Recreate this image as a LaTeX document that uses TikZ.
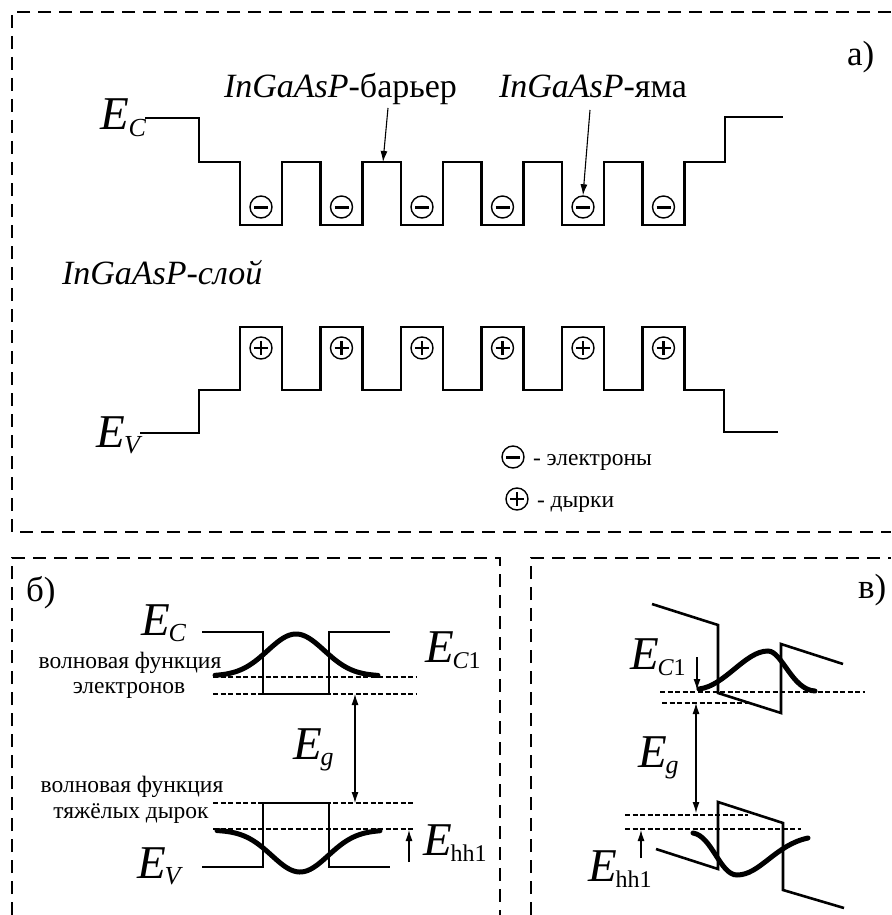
\documentclass[tikz,border=0pt]{standalone}
\usepackage{fontspec}
\setmainfont{Liberation Serif}
\usetikzlibrary{arrows.meta}

% energy level symbol: large italic E with a lowered subscript
\newcommand{\Lv}[2][26]{{\fontsize{47}{47}\selectfont\itshape E}\kern-1pt\raisebox{-6.5pt}{\fontsize{#1}{#1}\selectfont #2}}
\newcommand{\capsize}{\fontsize{34}{34}\selectfont}
\newcommand{\smallsize}{\fontsize{23.5}{23.5}\selectfont}
\newcommand{\tagsize}{\fontsize{35}{35}\selectfont}

\begin{document}
\begin{tikzpicture}[x=1pt,y=-1pt,
  frame/.style={line width=1.5pt, dash pattern=on 13pt off 8pt},
  band/.style={line width=2.6pt, line join=miter},
  lvl/.style={line width=1.2pt, dash pattern=on 5pt off 2.5pt},
  wave/.style={line width=5pt, line cap=round},
  lbl/.style={inner sep=0pt, outer sep=0pt},
  arr/.style={-{Latex[length=11pt,width=7pt]}, line width=1.1pt},
  dblarr/.style={{Latex[length=11pt,width=7pt]}-{Latex[length=11pt,width=7pt]}, line width=1.1pt},
  elec/.style={circle, draw, line width=1.4pt, minimum size=22pt, inner sep=0pt,
    path picture={\draw[line width=3pt]
      ([xshift=-7pt]path picture bounding box.center) -- ([xshift=7pt]path picture bounding box.center);}},
  hole/.style={circle, draw, line width=1.4pt, minimum size=22pt, inner sep=0pt,
    path picture={\draw[line width=2.6pt]
      ([xshift=-7pt]path picture bounding box.center) -- ([xshift=7pt]path picture bounding box.center)
      ([yshift=-7pt]path picture bounding box.center) -- ([yshift=7pt]path picture bounding box.center);}}
]
\useasboundingbox (0,0) rectangle (891,915);

% ---------------- panel a: multiple quantum wells ----------------
\draw[frame] (891,12) -- (12,12) -- (12,532) -- (891,532);
\node[lbl, anchor=base west, font=\tagsize] (pa) at (847,66) {a)};

% conduction band edge
\draw[band] (145,118) -| (199,162) -| (240,225) -| (282,162) -| (320.5,225) -| (362.5,162)
  -| (401,225) -| (443,162) -| (481.5,225) -| (523.5,162) -| (562,225) -| (604,162)
  -| (642.5,225) -| (684.5,162) -| (725,117) -- (783,117);
% valence band edge
\draw[band] (140,433) -| (199,390) -| (240,327) -| (282,390) -| (320.5,327) -| (362.5,390)
  -| (401,327) -| (443,390) -| (481.5,327) -| (523.5,390) -| (562,327) -| (604,390)
  -| (642.5,327) -| (684.5,390) -| (724,432) -- (778,432);

\foreach \i/\x in {1/261,2/341.5,3/422,4/502.5,5/583,6/663.5}{
  \node[elec] (m\i) at (\x,207) {};
  \node[hole] (p\i) at (\x,348) {};
}

\node[lbl, anchor=base east] (ECa) at (146,130) {\Lv{\itshape C}};
\node[lbl, anchor=base east] (EVa) at (140,447) {\Lv{\itshape V}};

\node[lbl, anchor=base west, font=\capsize] (lbar) at (224,98) {\textit{InGaAsP}-барьер};
\node[lbl, anchor=base west, font=\capsize] (lwell) at (499,98) {\textit{InGaAsP}-яма};
\node[lbl, anchor=base west, font=\capsize] (llay) at (62,284) {\textit{InGaAsP-слой}};

\coordinate (barA) at (388,108);
\coordinate (barB) at (383,162);
\coordinate (wellA) at (590,110);
\draw[arr] (barA) -- (barB);
\draw[arr] (wellA) -- (m5.north);

% legend
\node[elec] (lge) at (513,457) {};
\node[lbl, anchor=base west, font=\smallsize] (lget) at (533,465) {- электроны};
\node[hole] (lgh) at (517,499) {};
\node[lbl, anchor=base west, font=\smallsize] (lght) at (537,507) {- дырки};

% ---------------- panel b: single well, flat bands ----------------
\draw[frame] (12,915) -- (12,558) -- (500,558) -- (500,915);
\node[lbl, anchor=base west, font=\tagsize] (pb) at (26,601) {б)};

\draw[band] (202,632) -| (263,694) -| (329,632) -- (390,632);
\draw[band] (202,867) -| (263,803) -| (329,867) -- (390,867);

\draw[lvl] (213,677) -- (417,677);
\draw[lvl] (213,694) -- (417,694);
\draw[lvl] (213,803) -- (415,803);
\draw[lvl] (213,829) -- (415,829);

\draw[wave] plot[domain=215:378, samples=80, smooth]
  (\x, {676-42*exp(-((\x-296)/40)*((\x-296)/40))});
\draw[wave] plot[domain=217:380, samples=80, smooth]
  (\x, {830+42*exp(-((\x-300)/40)*((\x-300)/40))});

\coordinate (gbT) at (355,694);
\coordinate (gbB) at (355,803);
\draw[dblarr] (gbT) -- (gbB);
\coordinate (hbA) at (409,862);
\coordinate (hbB) at (409,830);
\draw[arr] (hbA) -- (hbB);

\node[lbl, anchor=base west] (ECb) at (141,635) {\Lv{\itshape C}};
\node[lbl, anchor=base west] (EVb) at (137,878) {\Lv{\itshape V}};
\node[lbl, anchor=base west] (Egb) at (293,759) {\Lv{\itshape g}};
\node[lbl, anchor=base west] (EC1b) at (425,662) {\Lv[24]{\itshape C\upshape 1}};
\node[lbl, anchor=base west] (Ehhb) at (423,855) {\Lv[24]{hh1}};

\node[lbl, anchor=base, font=\smallsize] (wf1a) at (130,668) {волновая функция};
\node[lbl, anchor=base, font=\smallsize] (wf1b) at (129,693) {электронов};
\node[lbl, anchor=base, font=\smallsize] (wf2a) at (132,792) {волновая функция};
\node[lbl, anchor=base, font=\smallsize] (wf2b) at (131,818) {тяжёлых дырок};

% ---------------- panel c: single well, tilted bands ----------------
\draw[frame] (531,915) -- (531,558) -- (891,558);
\node[lbl, anchor=base west, font=\tagsize] (pc) at (858,598) {в)};

\draw[band] (652,604) -- (718,625) -- (718,693) -- (781,713) -- (781,644) -- (843,664);
\draw[band] (656,849) -- (718,869) -- (718,802) -- (783,823) -- (783,890) -- (844,908);

\draw[lvl] (660,692) -- (865,692);
\draw[lvl] (662,703) -- (748,703);
\draw[lvl] (625,815) -- (748,815);
\draw[lvl] (625,829) -- (801,829);

\draw[wave] (699,689) .. controls (725,686) and (745,651) .. (768,651)
  .. controls (782,651) and (792,690) .. (815,691);
\draw[wave] (693,833) .. controls (712,836) and (720,875) .. (737,875)
  .. controls (760,875) and (775,845) .. (808,838);

\coordinate (gcT) at (696,703);
\coordinate (gcB) at (696,813);
\draw[dblarr] (gcT) -- (gcB);
\coordinate (ecA) at (697,657);
\coordinate (ecB) at (697,690);
\draw[arr] (ecA) -- (ecB);
\coordinate (hcA) at (641,858);
\coordinate (hcB) at (641,830);
\draw[arr] (hcA) -- (hcB);

\node[lbl, anchor=base west] (EC1c) at (630,669) {\Lv[24]{\itshape C\upshape 1}};
\node[lbl, anchor=base west] (Egc) at (638,767) {\Lv{\itshape g}};
\node[lbl, anchor=base west] (Ehhc) at (588,881) {\Lv[24]{hh1}};
\end{tikzpicture}
\end{document}
